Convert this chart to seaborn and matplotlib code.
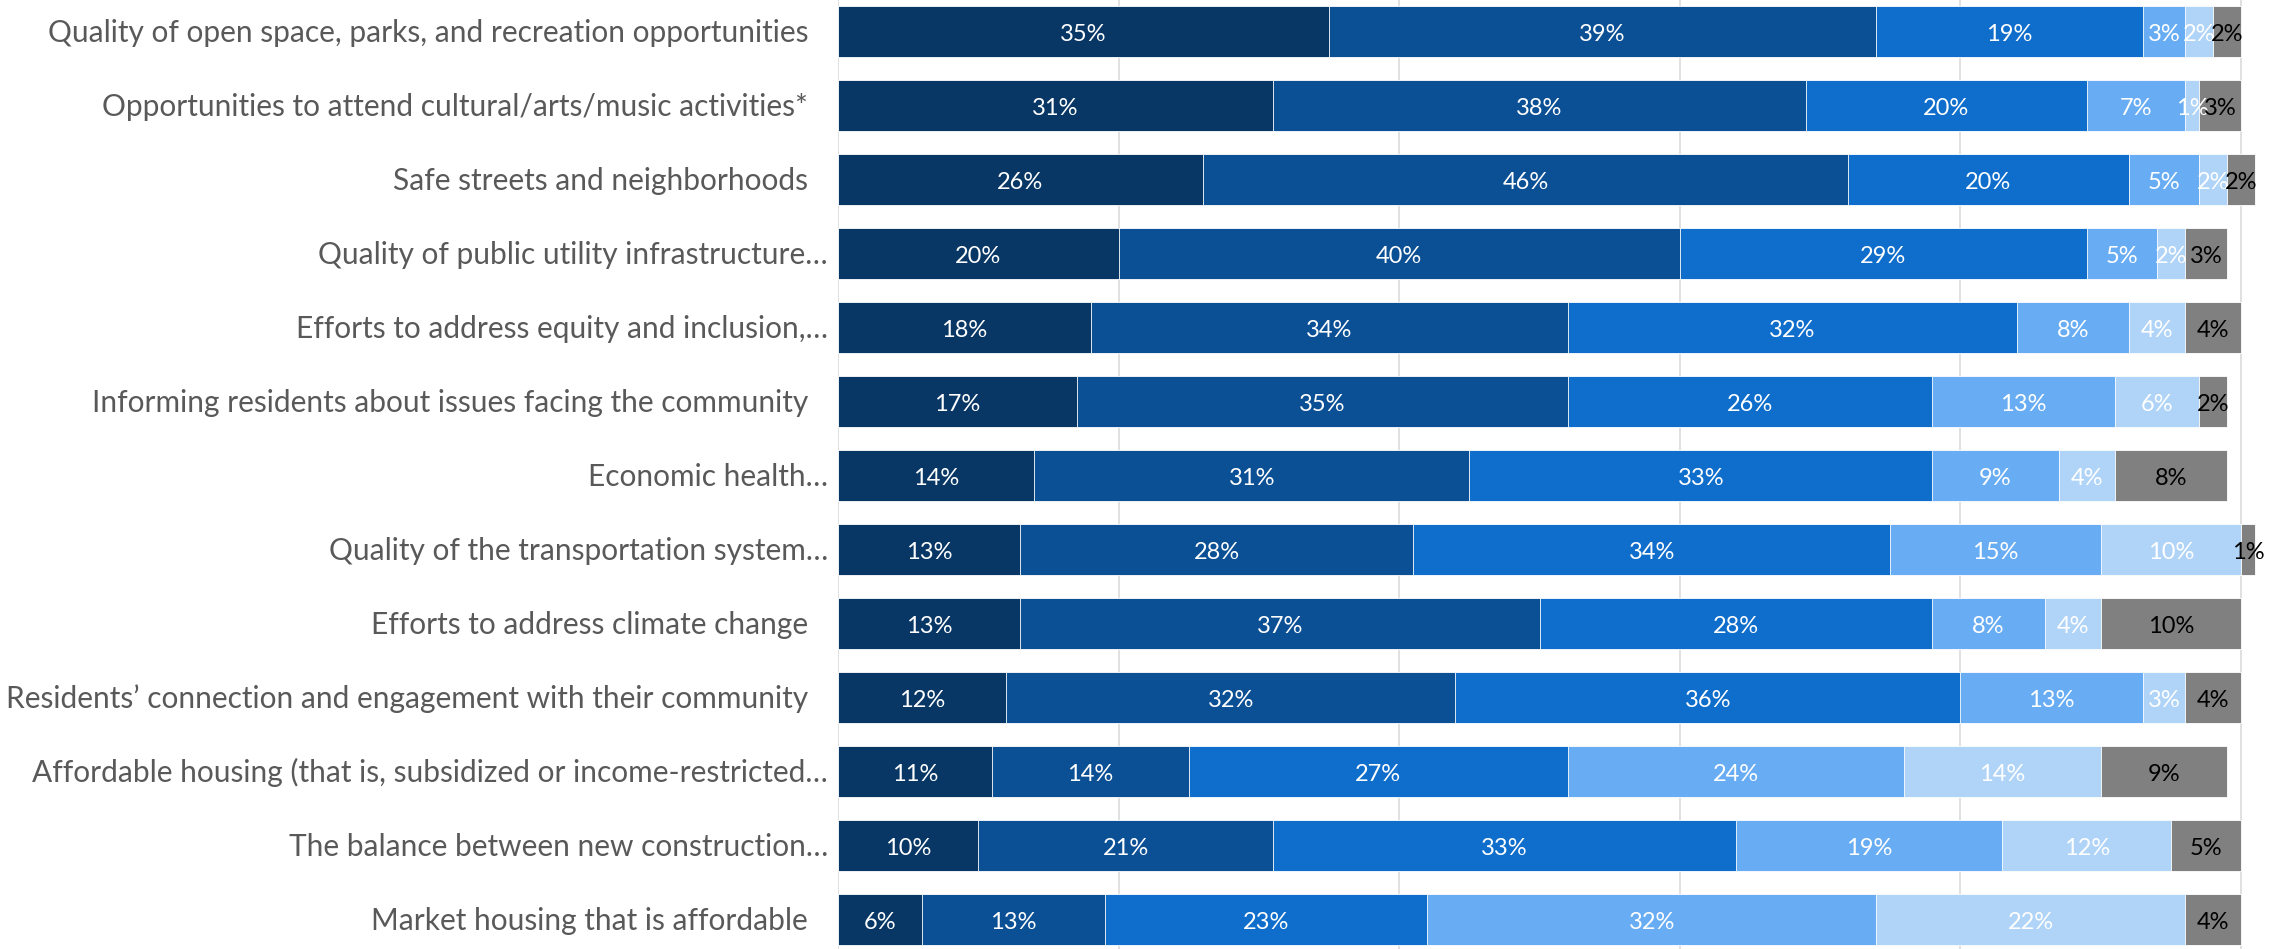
"""
Community priorities — 100% stacked horizontal bars, one row per topic.
"""

import numpy as np
import pandas as pd
import matplotlib
matplotlib.use("Agg")
import matplotlib.pyplot as plt
import seaborn as sns

# ── Data ─────────────────────────────────────────────────────────────────────
CATEGORIES = [
    "Quality of open space, parks, and recreation opportunities",
    "Opportunities to attend cultural/arts/music activities*",
    "Safe streets and neighborhoods",
    "Quality of public utility infrastructure…",
    "Efforts to address equity and inclusion,…",
    "Informing residents about issues facing the community",
    "Economic health…",
    "Quality of the transportation system…",
    "Efforts to address climate change",
    "Residents’ connection and engagement with their community",
    "Affordable housing (that is, subsidized or income-restricted…",
    "The balance between new construction…",
    "Market housing that is affordable",
]
TRUNCATED = [False, False, False, True, True, False, True, True, False, False, True, True, False]

SEG1 = [35, 31, 26, 20, 18, 17, 14, 13, 13, 12, 11, 10, 6]
SEG2 = [39, 38, 46, 40, 34, 35, 31, 28, 37, 32, 14, 21, 13]
SEG3 = [19, 20, 20, 29, 32, 26, 33, 34, 28, 36, 27, 33, 23]
SEG4 = [3, 7, 5, 5, 8, 13, 9, 15, 8, 13, 24, 19, 32]
SEG5 = [2, 1, 2, 2, 4, 6, 4, 10, 4, 3, 14, 12, 22]
SEG6 = [2, 3, 2, 3, 4, 2, 8, 1, 10, 4, 9, 5, 4]

COLORS = ["#083765", "#0B4F94", "#0F6ECB", "#68ADF3", "#B0D4F8", "#808080"]
TEXT_COLORS = ["white", "white", "white", "white", "white", "black"]

df = pd.DataFrame(
    {"s1": SEG1, "s2": SEG2, "s3": SEG3, "s4": SEG4, "s5": SEG5, "s6": SEG6},
    index=CATEGORIES,
)
cum = df.cumsum(axis=1)

# ── Figure ───────────────────────────────────────────────────────────────────
sns.set_theme(style="white")
plt.rcParams["font.family"] = ["Lato", "DejaVu Sans"]

W, H = 2280, 949
fig = plt.figure(figsize=(W / 100, H / 100), dpi=100)
left_px = 838
ax = fig.add_axes([left_px / W, 0, 1 - left_px / W, 1])

# stacked: draw cumulative totals from the outermost layer inwards
for k in reversed(range(df.shape[1])):
    sns.barplot(x=cum.iloc[:, k].values, y=CATEGORIES, orient="h",
                color=COLORS[k], saturation=1, width=0.69,
                edgecolor="white", linewidth=0.6, ax=ax)

ax.set_xlim(0, 100 * (W - left_px) / 1403)
ax.set_ylim(12.40, -0.426)
ax.set_xticks(range(0, 101, 20))
ax.grid(axis="x", color="#D9D9D9", linewidth=1.1)
ax.grid(axis="y", visible=False)
ax.set_axisbelow(True)
ax.tick_params(labelbottom=False, labelleft=False, length=0)
ax.set_xlabel("")
ax.set_ylabel("")
for s in ax.spines.values():
    s.set_visible(False)

# segment labels
for k in range(df.shape[1]):
    vals = df.iloc[:, k].values
    starts = (cum.iloc[:, k] - df.iloc[:, k]).values
    for i, v in enumerate(vals):
        ax.annotate(f"{v}%", xy=(starts[i] + v / 2, i), xytext=(0, -6.9),
                    textcoords="offset points", ha="center", va="baseline",
                    fontsize=17, color=TEXT_COLORS[k], annotation_clip=False)

# category labels (truncated ones sit closer to the axis)
for i, (label, trunc) in enumerate(zip(CATEGORIES, TRUNCATED)):
    dx = -7.2 if trunc else -21.6
    ax.annotate(label, xy=(0, i), xycoords=("axes fraction", "data"),
                xytext=(dx, -7.4), textcoords="offset points",
                ha="right", va="baseline", fontsize=21.5, color="#595959",
                annotation_clip=False)

fig.savefig("out.png", dpi=100)
